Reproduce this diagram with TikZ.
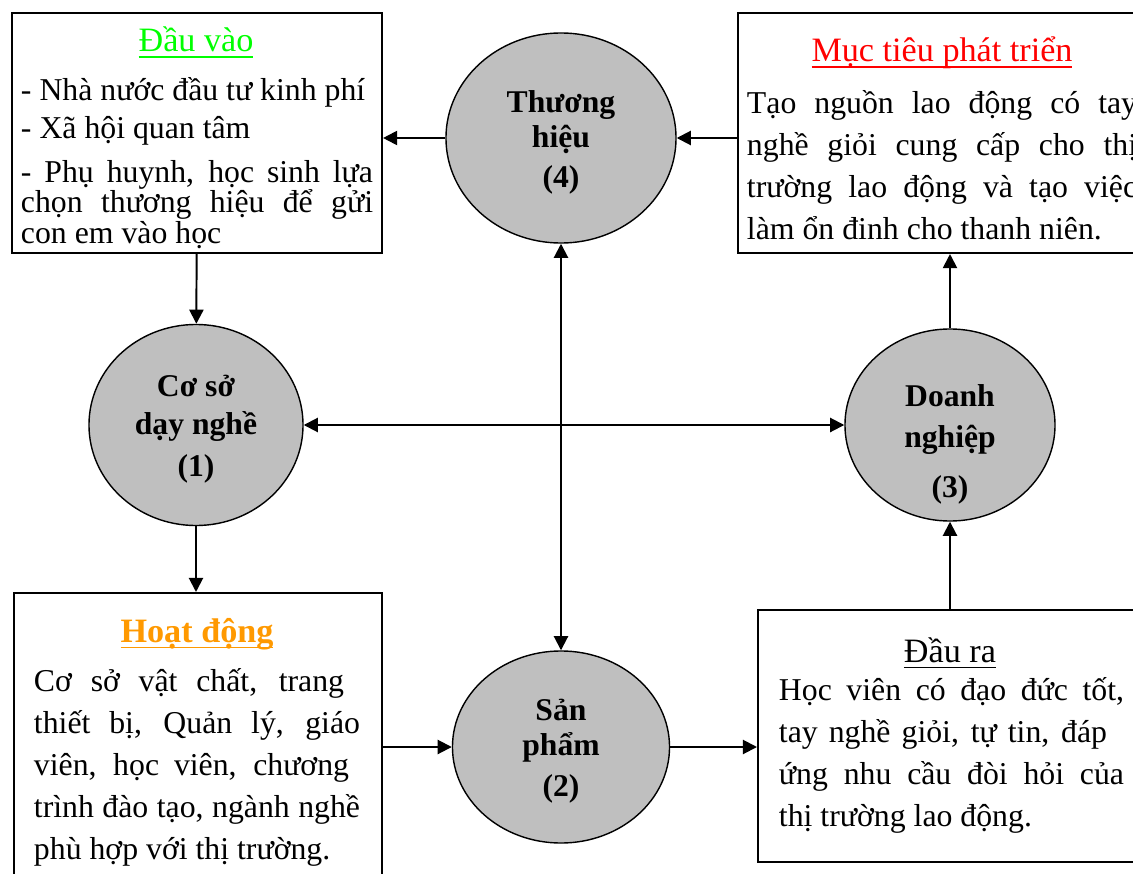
\documentclass[tikz,border=0pt]{standalone}
\usepackage{fontspec}
\setmainfont{Liberation Serif}
\usetikzlibrary{arrows.meta, shapes.geometric}
\definecolor{TitleGreen}{rgb}{0,1,0}
\definecolor{TitleRed}{rgb}{1,0,0}
\definecolor{TitleOrange}{rgb}{1,0.6,0}
\definecolor{HubGray}{rgb}{0.75,0.75,0.75}
\setlength{\lineskiplimit}{-100pt}
\newcommand{\jline}[2]{\makebox[#1][s]{#2}}
\newcommand{\wul}[1]{\setbox0\hbox{#1}\rlap{\rule[-4.6pt]{\wd0}{1.4pt}}\box0}

\begin{document}
\begin{tikzpicture}[x=0.025cm, y=-0.025cm,
		>={Triangle[length=10pt,width=10pt]}, line width=1.4pt,
		frame/.style={draw, rectangle, inner sep=0pt, anchor=north west},
		hub/.style={draw, ellipse, fill=HubGray, line width=1pt, inner sep=0pt},
		hubtext/.style={inner sep=0pt, align=center, font=\fontsize{22.5}{25}\selectfont\bfseries},
		title/.style={anchor=base, inner sep=0pt, font=\fontsize{24.3}{28}\selectfont},
		body/.style={anchor=base west, inner sep=0pt, align=left, font=\fontsize{22.6}{29.8}\selectfont}]
		
		\clip (0,0) rectangle (1133,874);
		
		% boxes
		\node[frame, minimum width=9.25cm, minimum height=6cm] (dv) at (11,12) {};
		\node[frame, minimum width=10.25cm, minimum height=6cm] (mt) at (737,12) {};
		\node[frame, minimum width=9.2cm, minimum height=7.45cm] (hd) at (13,592) {};
		\node[frame, minimum width=9.75cm, minimum height=6.3cm] (dr) at (757,609) {};
		
		% box texts (anchored at the last line)
		\node[title, TitleGreen] (dvtitle) at (196,52) {\wul{Đầu vào}};
		\node[body, font=\fontsize{22.6}{21.6}\selectfont] (dvtext) at (20,243) {- Nhà nước đầu tư kinh phí\\[5.4pt]
			- Xã hội quan tâm\\[9.6pt]
			\jline{8.8cm}{- Phụ huynh, học sinh lựa}\\
			\jline{8.8cm}{chọn thương hiệu để gửi}\\
			con em vào học};
		
		\node[title, TitleRed] (mttitle) at (942,62) {\wul{Mục tiêu phát triển}};
		\node[body] (mttext) at (746,239) {\jline{9.75cm}{Tạo nguồn lao động có tay}\\
			\jline{9.75cm}{nghề giỏi cung cấp cho thị}\\
			\jline{9.75cm}{trường lao động và tạo việc}\\
			làm ổn đinh cho thanh niên.};
		
		\node[title, TitleOrange, font=\fontsize{24.3}{28}\selectfont\bfseries] (hdtitle) at (197,642) {\wul{Hoạt động}};
		\node[body] (hdtext) at (33,859) {\jline{7.75cm}{Cơ sở vật chất, trang}\\
			\jline{8.15cm}{thiết bị, Quản lý, giáo}\\
			\jline{7.875cm}{viên, học viên, chương}\\
			\jline{8.15cm}{trình đào tạo, ngành nghề}\\
			phù hợp với thị trường.};
		
		\node[title] (drtitle) at (950,662) {\wul{Đầu ra}};
		\node[body] (drtext) at (778,826) {\jline{8.625cm}{Học viên có đạo đức tốt,}\\
			\jline{8.2cm}{tay nghề giỏi, tự tin, đáp}\\
			\jline{8.625cm}{ứng nhu cầu đòi hỏi của}\\
			thị trường lao động.};
		
		% hubs
		\node[hub, minimum width=5.75cm, minimum height=5.25cm] (c4) at (561,138) {};
		\node[hub, minimum width=5.35cm, minimum height=5.025cm] (c1) at (196,425) {};
		\node[hub, minimum width=5.25cm, minimum height=4.8cm] (c3) at (950,425) {};
		\node[hub, minimum width=5.425cm, minimum height=4.8cm] (c2) at (561,747) {};
		
		\node[hubtext, yshift=-3pt] (c4text) at (c4) {Thương\\hiệu\\[3.5pt](4)};
		\node[hubtext, yshift=-3pt] (c1text) at (c1) {Cơ sở\\[2pt]dạy nghề\\[5pt](1)};
		\node[hubtext, yshift=-14pt] (c3text) at (c3) {Doanh\\[3.5pt]nghiệp\\[11pt](3)};
		\node[hubtext, yshift=-3pt] (c2text) at (c2) {Sản\\phẩm\\[4pt](2)};
		
		% arrows
		\draw[->] (dv) -- (c1);
		\draw[->] (c1.south) -- (c1.south |- hd.north);
		\draw[->] (hd.east |- c2.west) -- (c2.west);
		\draw[->] (c2.east) -- (c2.east -| dr.west);
		\draw[->] (dr.north -| c3.south) -- (c3.south);
		\draw[->] (c3.north) -- (c3.north |- mt.south);
		\draw[->] (mt.west |- c4.east) -- (c4.east);
		\draw[->] (c4.west) -- (c4.west -| dv.east);
		\draw[<->] (c2) -- (c4);
		\draw[<->] (c1) -- (c3);
		
	\end{tikzpicture}
\end{document}
